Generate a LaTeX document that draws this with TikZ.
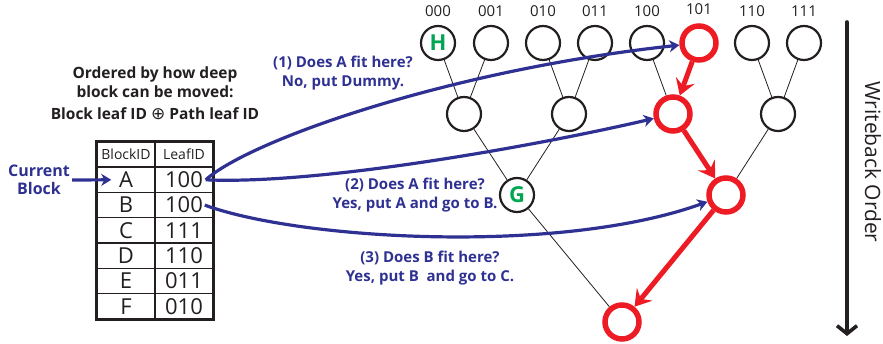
\documentclass[tikz,border=0pt]{standalone}
\usepackage{fontspec}
\setmainfont{Open Sans}
\newfontfamily\glyphs{DejaVu Sans}
\usepackage{tikz}
\usetikzlibrary{arrows.meta}
\usetikzlibrary{positioning}
\definecolor{indigo}{RGB}{46, 49, 146}
\definecolor{crimson}{RGB}{237, 28, 36}
\definecolor{jade}{RGB}{0, 166, 81}
\definecolor{ink}{RGB}{35, 31, 32}

\tikzset{
    bucket/.style={circle, draw=ink, line width=2.2pt, minimum size=34pt, inner sep=0pt,
                   text=jade, font=\fontsize{22}{22}\selectfont\bfseries},
    onpath/.style={bucket, draw=crimson, line width=5.5pt},
    bits/.style={inner sep=0pt, text=ink, font=\fontsize{15}{15}\selectfont},
    edge/.style={ink, line width=0.8pt},
    evict/.style={crimson, line width=5pt, -{Stealth[length=16pt, width=20pt, inset=6pt]}},
    hint/.style={indigo, line width=3.2pt, -{Stealth[length=10pt, width=12pt, inset=3pt]}},
    cell/.style={draw=ink, line width=1.5pt, minimum width=58pt, minimum height=25.3pt,
                 inner sep=0pt, text=ink, font=\fontsize{22}{22}\selectfont},
    headcell/.style={cell, font=\fontsize{14}{14}\selectfont},
    question/.style={text=indigo, align=center, font=\fontsize{15}{19}\selectfont\bfseries}
}

\begin{document}
\begin{tikzpicture}[x=1pt, y=-1pt]
            \useasboundingbox (0,0) rectangle (883,344);

            % buckets, leaves first
            \node[bucket]  (b000) at (438, 43) {H};
            \node[bucket]  (b001) at (491, 43) {};
            \node[bucket]  (b010) at (543, 43) {};
            \node[bucket]  (b011) at (595, 43) {};
            \node[bucket]  (b100) at (647, 43) {};
            \node[onpath]  (b101) at (699, 43) {};
            \node[bucket]  (b110) at (752, 43) {};
            \node[bucket]  (b111) at (804, 43) {};
            \node[bucket]  (b00)  at (464,114) {};
            \node[bucket]  (b01)  at (569,114) {};
            \node[onpath]  (b10)  at (673,114) {};
            \node[bucket]  (b11)  at (778,114) {};
            \node[bucket]  (b0)   at (517,195) {G};
            \node[onpath]  (b1)   at (726,195) {};
            \node[onpath]  (bR)   at (622,322) {};

            \node[bits, above=8pt of b000] (t000) {000};
            \node[bits, above=8pt of b001] (t001) {001};
            \node[bits, above=8pt of b010] (t010) {010};
            \node[bits, above=8pt of b011] (t011) {011};
            \node[bits, above=8pt of b100] (t100) {100};
            \node[bits, above=8pt of b101] (t101) {101};
            \node[bits, above=8pt of b110] (t110) {110};
            \node[bits, above=8pt of b111] (t111) {111};

            \draw[edge] (b000) -- (b00);  \draw[edge] (b001) -- (b00);
            \draw[edge] (b010) -- (b01);  \draw[edge] (b011) -- (b01);
            \draw[edge] (b100) -- (b10);
            \draw[edge] (b110) -- (b11);  \draw[edge] (b111) -- (b11);
            \draw[edge] (b00)  -- (b0);   \draw[edge] (b01)  -- (b0);
            \draw[edge] (b11)  -- (b1);
            \draw[edge] (b0)   -- (bR);

            \draw[evict] (b101) -- (b10);
            \draw[evict] (b10)  -- (b1);
            \draw[evict] (b1)   -- (bR);

            % stash table
            \node[headcell] (hBlk)  at (126,154.5) {BlockID};
            \node[headcell] (hLeaf) at (184,154.5) {LeafID};
            \node[cell] (kA) at (126,179.8) {A};  \node[cell] (vA) at (184,179.8) {100};
            \node[cell] (kB) at (126,205.1) {B};  \node[cell] (vB) at (184,205.1) {100};
            \node[cell] (kC) at (126,230.4) {C};  \node[cell] (vC) at (184,230.4) {111};
            \node[cell] (kD) at (126,255.7) {D};  \node[cell] (vD) at (184,255.7) {110};
            \node[cell] (kE) at (126,281.0) {E};  \node[cell] (vE) at (184,281.0) {011};
            \node[cell] (kF) at (126,306.3) {F};  \node[cell] (vF) at (184,306.3) {010};
            \draw[ink, line width=2.6pt] (hBlk.north west) rectangle (vF.south east);

            \node[align=center, text=ink, font=\fontsize{15.5}{19}\selectfont\bfseries] (order) at (155,93)
                 {Ordered by how deep\\block can be moved:\\[3pt]Block leaf ID {\glyphs\mdseries\fontsize{17}{17}\selectfont ⊕} Path leaf ID};

            \node[align=center, text=indigo, inner sep=2pt, font=\fontsize{16}{18.5}\selectfont\bfseries]
                 (current) at (39,180) {Current\\Block};
            \draw[hint] (current.east) -- ([xshift=15pt]kA.west);

            \coordinate (fromA) at ([xshift=-8pt]vA.east);
            \coordinate (fromB) at ([xshift=-9pt]vB.east);
            \draw[hint] (fromA) .. controls (250,140) and (450,70)  .. (b101);
            \draw[hint] (fromA) .. controls (320,185) and (540,145) .. (b10);
            \draw[hint] (fromB) .. controls (300,240) and (560,255) .. (b1);

            \node[question] (q1) at (343, 73) {(1) Does A fit here?\\No, put Dummy.};
            \node[question] (q2) at (415,195) {(2) Does A fit here?\\Yes, put A and go to B.};
            \node[question] (q3) at (430,268) {(3) Does B fit here?\\Yes, put B\ \ and go to C.};

            % writeback direction
            \coordinate (wbTop) at (847, 22);
            \coordinate (wbEnd) at (847,336);
            \draw[ink, line width=3.6pt, line cap=round, -{Straight Barb[length=8pt, width=20pt]}] (wbTop) -- (wbEnd);
            \node[rotate=-90, text=ink, font=\fontsize{21}{21}\selectfont] (wbText) at (873,162) {Writeback Order};
\end{tikzpicture}
\end{document}
